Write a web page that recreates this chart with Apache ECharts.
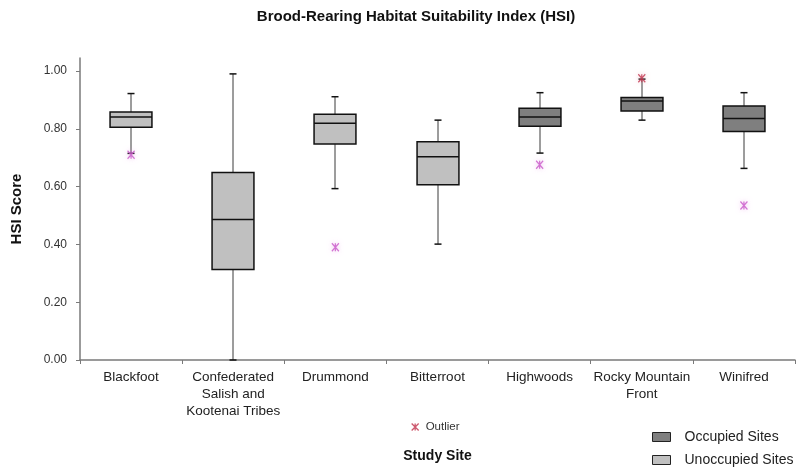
<!DOCTYPE html>
<html>
<head>
<meta charset="utf-8">
<script src="https://cdn.jsdelivr.net/npm/echarts@6/dist/echarts.min.js"></script>
<style>html,body{margin:0;padding:0;background:#fff}#chart{width:798px;height:469px}</style>
</head>
<body>
<div id="chart"></div>
<script>
var categories = ['Blackfoot', 'Confederated\nSalish and\nKootenai Tribes', 'Drummond', 'Bitterroot', 'Highwoods', 'Rocky Mountain\nFront', 'Winifred'];
var siteStatus = ['Unoccupied', 'Unoccupied', 'Unoccupied', 'Unoccupied', 'Occupied', 'Occupied', 'Occupied'];
var whiskerLow  = [0.715, 0.000, 0.593, 0.401, 0.716, 0.830, 0.663];
var quartile1   = [0.805, 0.313, 0.747, 0.606, 0.809, 0.862, 0.791];
var medians     = [0.841, 0.486, 0.819, 0.703, 0.841, 0.896, 0.836];
var quartile3   = [0.858, 0.649, 0.850, 0.755, 0.871, 0.908, 0.879];
var whiskerHigh = [0.922, 0.990, 0.911, 0.830, 0.925, 0.972, 0.925];
var outlierSite  = [0, 2, 4, 6];
var outlierValue = [0.710, 0.390, 0.676, 0.535];
var extremeSite  = [5];
var extremeValue = [0.975];
var yTicks = [0, 0.2, 0.4, 0.6, 0.8, 1.0];

var FONT = 'Liberation Sans, Arial, sans-serif';

function rowsFor(status) {
  var rows = [];
  for (var i = 0; i < categories.length; i++) {
    if (siteStatus[i] === status) rows.push([i, whiskerLow[i], quartile1[i], medians[i], quartile3[i], whiskerHigh[i]]);
  }
  return rows;
}

function makeRender(fill) {
  return function (params, api) {
    var x = api.value(0);
    var pLow = api.coord([x, api.value(1)]);
    var pQ1 = api.coord([x, api.value(2)]);
    var pMed = api.coord([x, api.value(3)]);
    var pQ3 = api.coord([x, api.value(4)]);
    var pHigh = api.coord([x, api.value(5)]);
    var band = api.size([1, 0])[0];
    var bw = band * 0.41;
    var cx = Math.round(pMed[0]);
    var cap = 3.5;
    var wStyle = {stroke: '#3a3a3a', lineWidth: 1};
    var cStyle = {stroke: '#111', lineWidth: 1.5};
    return {
      type: 'group',
      children: [
        {type: 'line', shape: {x1: cx, y1: pHigh[1], x2: cx, y2: pQ3[1]}, style: wStyle},
        {type: 'line', shape: {x1: cx, y1: pQ1[1], x2: cx, y2: pLow[1]}, style: wStyle},
        {type: 'line', shape: {x1: cx - cap, y1: pHigh[1], x2: cx + cap, y2: pHigh[1]}, style: cStyle},
        {type: 'line', shape: {x1: cx - cap, y1: pLow[1], x2: cx + cap, y2: pLow[1]}, style: cStyle},
        {type: 'rect', shape: {x: cx - bw / 2, y: pQ3[1], width: bw, height: pQ1[1] - pQ3[1]},
          style: {fill: fill, stroke: '#111', lineWidth: 1.5}},
        {type: 'line', shape: {x1: cx - bw / 2, y1: pMed[1], x2: cx + bw / 2, y2: pMed[1]}, style: {stroke: '#111', lineWidth: 1.5}}
      ]
    };
  };
}

var STAR = 'path://M0,0L10,10M10,0L0,10M5,0L5,10';

function siteLegend(name, fill, top) {
  return {
    left: 647, top: top, itemWidth: 18, itemHeight: 9, icon: 'rect',
    textStyle: {fontFamily: FONT, fontSize: 14, color: '#222', padding: [0, 0, 0, 9]},
    data: [{name: name, itemStyle: {color: fill, borderColor: '#222', borderWidth: 1}}]
  };
}

var chart = echarts.init(document.getElementById('chart'));
chart.setOption({
  animation: false,
  backgroundColor: '#fff',
  title: {
    text: 'Brood-Rearing Habitat Suitability Index (HSI)',
    left: 411, top: 4, textAlign: 'center',
    textStyle: {fontFamily: FONT, fontSize: 15, fontWeight: 'bold', color: '#111'}
  },
  legend: [
    siteLegend('Occupied Sites', '#7f7f7f', 425),
    siteLegend('Unoccupied Sites', '#c0c0c0', 448),
    {
      left: 406, top: 416, itemWidth: 7, itemHeight: 8,
      textStyle: {fontFamily: FONT, fontSize: 11.5, color: '#333', padding: [0, 0, 0, 2]},
      data: [{name: 'Outlier', icon: STAR, itemStyle: {color: 'transparent', borderColor: '#c0304a', borderWidth: 1.3}}]
    }
  ],
  grid: {left: 80, right: 3, top: 58, bottom: 109},
  xAxis: {
    type: 'category', data: categories, boundaryGap: true,
    name: 'Study Site', nameLocation: 'middle', nameGap: 89,
    nameTextStyle: {fontFamily: FONT, fontSize: 14, fontWeight: 'bold', color: '#111'},
    axisLine: {lineStyle: {color: '#7a7a7a', width: 1.5}},
    axisTick: {show: true, length: 4, alignWithLabel: false, interval: 0, lineStyle: {color: '#7a7a7a'}},
    axisLabel: {interval: 0, margin: 9, fontFamily: FONT, fontSize: 13.5, lineHeight: 17, color: '#222'},
    splitLine: {show: false}
  },
  yAxis: {
    type: 'value', min: 0, max: 1.045,
    name: 'HSI Score', nameLocation: 'middle', nameGap: 56,
    nameTextStyle: {fontFamily: FONT, fontSize: 15, fontWeight: 'bold', color: '#111'},
    axisLine: {show: true, lineStyle: {color: '#7a7a7a', width: 1.5}},
    axisTick: {show: true, length: 4, customValues: yTicks, lineStyle: {color: '#7a7a7a'}},
    axisLabel: {customValues: yTicks, margin: 13, fontFamily: FONT, fontSize: 12, color: '#333',
      formatter: function (v) { return v.toFixed(2); }},
    splitLine: {show: false}
  },
  series: [
    {name: 'Unoccupied Sites', type: 'custom', data: rowsFor('Unoccupied'),
      encode: {x: 0, y: [1, 2, 3, 4, 5]}, itemStyle: {color: '#c0c0c0'},
      renderItem: makeRender('#c0c0c0')},
    {name: 'Occupied Sites', type: 'custom', data: rowsFor('Occupied'),
      encode: {x: 0, y: [1, 2, 3, 4, 5]}, itemStyle: {color: '#7f7f7f'},
      renderItem: makeRender('#7f7f7f')},
    {name: 'Outlier', type: 'scatter', symbol: STAR, symbolSize: [7, 8],
      data: outlierSite.map(function (s, i) { return [s, outlierValue[i]]; }),
      itemStyle: {color: 'transparent', borderColor: '#c855c8', borderWidth: 1.3, shadowBlur: 5, shadowColor: 'rgba(230,150,230,0.7)'},
      z: 5},
    {name: 'Extreme', type: 'scatter', symbol: STAR, symbolSize: [7, 8],
      data: extremeSite.map(function (s, i) { return [s, extremeValue[i]]; }),
      itemStyle: {color: 'transparent', borderColor: '#c0304a', borderWidth: 1.3, shadowBlur: 5, shadowColor: 'rgba(230,150,170,0.7)'},
      z: 5}
  ]
});
</script>
</body>
</html>
